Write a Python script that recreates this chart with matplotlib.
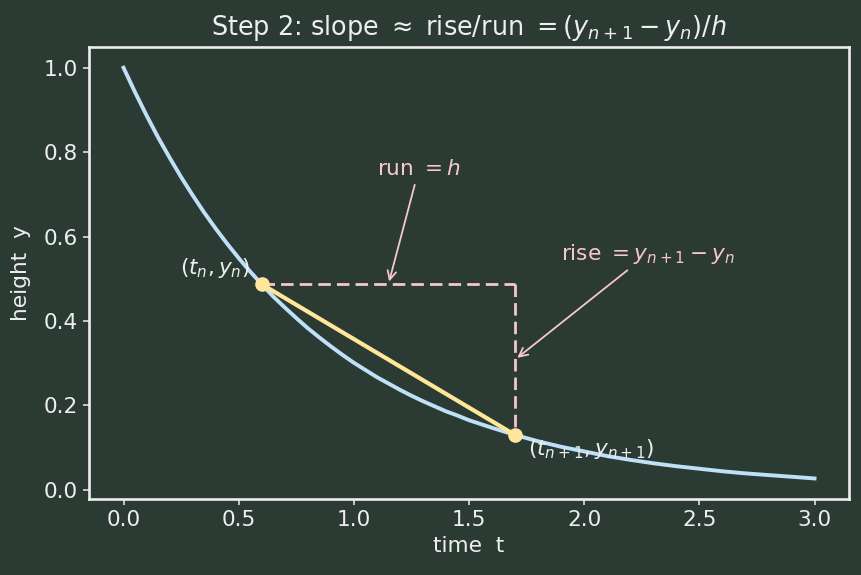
"""
Euler step illustration: secant slope between two points on a decay curve.

    python3 plot.py     # writes out.png
"""

import matplotlib
matplotlib.use("Agg")
import matplotlib.pyplot as plt

BG = "#2b3b34"
FG = "#eeeeee"
CURVE = "#bfe0f7"
SECANT = "#ffe69a"
PINK = "#f7c6d0"

# curve
t_vals = [0.0, 0.05, 0.1, 0.15, 0.2, 0.25, 0.3, 0.35, 0.4, 0.45, 0.5,
          0.55, 0.6, 0.65, 0.7, 0.75, 0.8, 0.85, 0.9, 0.95, 1.0,
          1.05, 1.1, 1.15, 1.2, 1.25, 1.3, 1.35, 1.4, 1.45, 1.5,
          1.6, 1.7, 1.8, 1.9, 2.0, 2.1, 2.2, 2.3, 2.4, 2.5,
          2.6, 2.7, 2.8, 2.9, 3.0]
y_vals = [1.000, 0.942, 0.887, 0.835, 0.787, 0.741, 0.698, 0.657, 0.619, 0.583, 0.549,
          0.517, 0.487, 0.458, 0.432, 0.407, 0.383, 0.361, 0.340, 0.320, 0.301,
          0.284, 0.267, 0.252, 0.237, 0.223, 0.210, 0.198, 0.186, 0.176, 0.165,
          0.147, 0.130, 0.115, 0.102, 0.091, 0.080, 0.071, 0.063, 0.056, 0.050,
          0.044, 0.039, 0.035, 0.031, 0.027]

# the two points of the step
t_n, y_n = 0.6, 0.487
t_n1, y_n1 = 1.7, 0.130

FS = 15.6

plt.rcParams.update({
    "figure.facecolor": BG,
    "axes.facecolor": BG,
    "axes.edgecolor": FG,
    "axes.labelcolor": FG,
    "xtick.color": FG,
    "ytick.color": FG,
    "text.color": FG,
    "font.size": FS,
    "xtick.major.size": 4.5,
    "ytick.major.size": 4.5,
    "xtick.major.width": 1.1,
    "ytick.major.width": 1.1,
})

fig, ax = plt.subplots(figsize=(8.62, 5.75), dpi=100)
fig.subplots_adjust(left=0.1032, right=0.985, bottom=0.1322, top=0.918)

ax.plot(t_vals, y_vals, color=CURVE, linewidth=2.8, zorder=2)

# run and rise legs
dash = (0, (4.5, 2.2))
ax.plot([t_n, t_n1], [y_n, y_n], color=PINK, linestyle=dash, linewidth=2.0, zorder=3)
ax.plot([t_n1, t_n1], [y_n, y_n1], color=PINK, linestyle=dash, linewidth=2.0, zorder=3)

# secant
ax.plot([t_n, t_n1], [y_n, y_n1], color=SECANT, linewidth=3.0, zorder=4)
ax.plot([t_n, t_n1], [y_n, y_n1], "o", color=SECANT, markersize=9.5, zorder=5)

ax.text(t_n - 0.05, y_n + 0.025, r"$(t_n, y_n)$", ha="right", color=FG, fontsize=FS)
ax.text(t_n1 + 0.055, y_n1 - 0.047, r"$(t_{n+1}, y_{n+1})$", ha="left", color=FG, fontsize=FS)

ax.annotate(r"run $= h$", xy=(1.15, y_n), xytext=(1.1, 0.745),
            color=PINK, fontsize=FS,
            arrowprops=dict(arrowstyle="->", color=PINK, linewidth=1.3))
ax.annotate(r"rise $= y_{n+1} - y_n$", xy=(t_n1, (y_n + y_n1) / 2), xytext=(1.9, 0.545),
            color=PINK, fontsize=FS,
            arrowprops=dict(arrowstyle="->", color=PINK, linewidth=1.3))

ax.set_title(r"Step 2: slope $\approx$ rise/run $=(y_{n+1} - y_n)/h$",
             fontsize=18.4, color=FG, pad=9)
ax.set_xlabel("time  t")
ax.set_ylabel("height  y", labelpad=9)

for spine in ax.spines.values():
    spine.set_linewidth(1.9)

fig.savefig("out.png", dpi=100, facecolor=BG)
